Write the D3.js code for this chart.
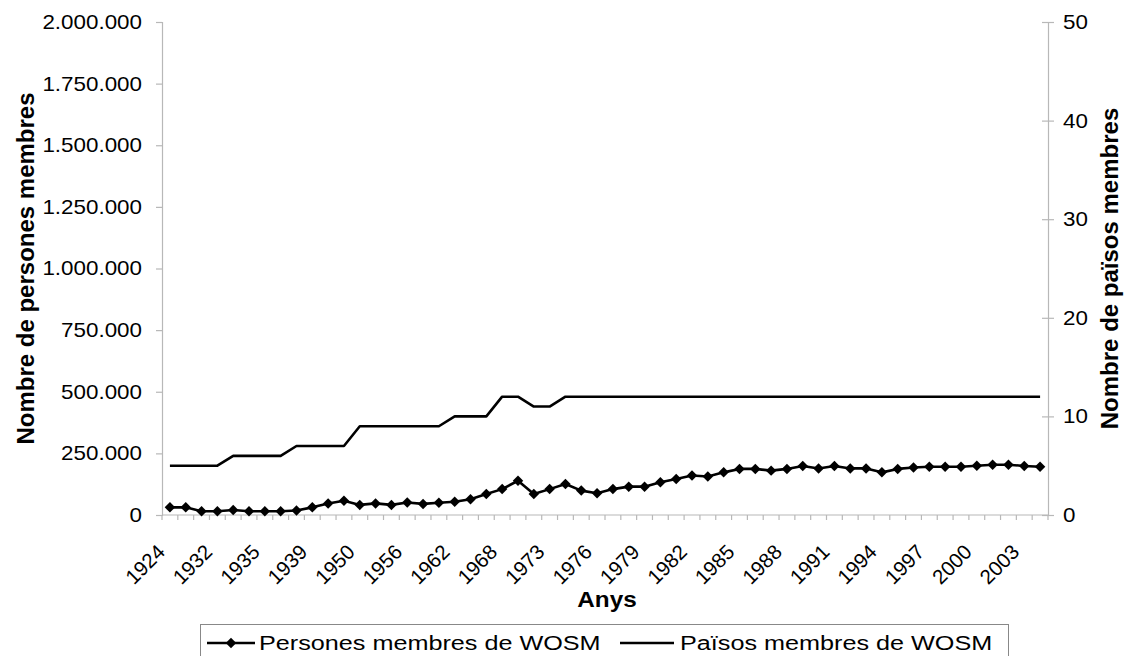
<!DOCTYPE html>
<html>
<head>
<meta charset="utf-8">
<script src="https://cdn.jsdelivr.net/npm/d3@7"></script>
<style>
  html, body { margin: 0; padding: 0; background: #fff; }
  svg { display: block; }
  text { font-family: "Liberation Sans", Arial, sans-serif; fill: #000; }
</style>
</head>
<body>
<svg id="chart" width="1130" height="656"></svg>
<script>
// ---- data ----
const years = [1924,1926,1929,1932,1933,1934,1935,1937,1938,1939,1947,1949,1950,1952,1954,1956,1958,1960,1962,1964,1966,1968,1969,1971,1973,1974,1975,1976,1977,1978,1979,1980,1981,1982,1983,1984,1985,1986,1987,1988,1989,1990,1991,1992,1993,1994,1995,1996,1997,1998,1999,2000,2001,2002,2003,2004];
const persones = [31000,31000,15000,15000,20000,15000,15000,15000,18000,31000,
                  47000,58000,41000,47000,41000,51000,45000,50000,54000,64000,
                  85000,105000,139000,85000,105000,126000,99000,88000,105000,115000,
                  115000,133000,146000,160000,156000,173000,187000,187000,180000,187000,
                  199000,189000,199000,189000,189000,173000,187000,193000,196000,196000,
                  196000,200000,204000,204000,199000,196000];
const paisos = [5,5,5,5,6,6,6,6,7,7,7,7,9,9,9,9,9,9,10,10,10,12,12,11,11,12,
                12,12,12,12,12,12,12,12,12,12,12,12,12,12,12,12,12,12,12,12,12,12,12,12,12,12,12,12,12,12];
const leftTicks = [0,250000,500000,750000,1000000,1250000,1500000,1750000,2000000];
const rightTicks = [0,10,20,30,40,50];
const labelEvery = 3;
const seriesNames = ["Persones membres de WOSM", "Països membres de WOSM"];
const xTitle = "Anys";
const yLeftTitle = "Nombre de persones membres";
const yRightTitle = "Nombre de països membres";

// ---- layout ----
const L = 162, R = 1048, T = 22, B = 515;
const axisGray = "#b8b8b8";
const SX = 1.12;      // horizontal stretch of the reference's text
const svg = d3.select("#chart");

const locale = d3.formatLocale({decimal: ",", thousands: ".", grouping: [3], currency: ["", ""]});
const fmt = locale.format(",d");

const x = d3.scaleBand().domain(d3.range(years.length)).range([L, R]).paddingInner(0).paddingOuter(0);
const cx = i => x(i) + x.bandwidth() / 2;
const yL = d3.scaleLinear().domain([0, 2000000]).range([B, T]);
const yR = d3.scaleLinear().domain([0, 50]).range([B, T]);

// left axis
const gL = svg.append("g").attr("transform", `translate(${L},0)`)
  .call(d3.axisLeft(yL).tickValues(leftTicks).tickFormat(fmt).tickSize(6).tickPadding(20));
gL.select(".domain").attr("stroke", axisGray).attr("stroke-width", 1.2);
gL.selectAll(".tick line").attr("stroke", axisGray).attr("stroke-width", 1.2);
gL.selectAll(".tick text").attr("font-size", 20).attr("font-family", "Liberation Sans, Arial, sans-serif").attr("fill", "#111")
  .attr("x", 0).attr("transform", `translate(-20,0) scale(${SX},1)`);

// right axis
const gR = svg.append("g").attr("transform", `translate(${R},0)`)
  .call(d3.axisRight(yR).tickValues(rightTicks).tickSize(6).tickPadding(15));
gR.select(".domain").attr("stroke", axisGray).attr("stroke-width", 1.2);
gR.selectAll(".tick line").attr("stroke", axisGray).attr("stroke-width", 1.2).attr("x1", -6);
gR.selectAll(".tick text").attr("font-size", 20).attr("font-family", "Liberation Sans, Arial, sans-serif").attr("fill", "#111")
  .attr("x", 0).attr("transform", `translate(15,0) scale(${SX},1)`);

// bottom axis (category boundaries ticks)
const gB = svg.append("g");
gB.append("line").attr("x1", L).attr("x2", R).attr("y1", B).attr("y2", B)
  .attr("stroke", axisGray).attr("stroke-width", 1.2);
gB.selectAll("line.tk").data(d3.range(years.length + 1)).join("line").attr("class", "tk")
  .attr("x1", i => i < years.length ? x(i) : R).attr("x2", i => i < years.length ? x(i) : R)
  .attr("y1", B).attr("y2", B + 5).attr("stroke", axisGray).attr("stroke-width", 1.2);
gB.selectAll("text.xl").data(d3.range(0, years.length, labelEvery)).join("text").attr("class", "xl")
  .attr("transform", i => `translate(${cx(i) - 14},${B + 28}) rotate(-45)`)
  .attr("text-anchor", "end").attr("dy", "0.71em").attr("font-size", 20.5).attr("fill", "#111")
  .text(i => years[i]);

// lines
const lineL = d3.line().x((d, i) => cx(i)).y(d => yL(d));
const lineR = d3.line().x((d, i) => cx(i)).y(d => yR(d));
svg.append("path").datum(paisos).attr("d", lineR).attr("fill", "none")
  .attr("stroke", "#000").attr("stroke-width", 2.6).attr("stroke-linejoin", "round");
svg.append("path").datum(persones).attr("d", lineL).attr("fill", "none")
  .attr("stroke", "#000").attr("stroke-width", 2.6).attr("stroke-linejoin", "round");
svg.selectAll("path.mk").data(persones).join("path").attr("class", "mk")
  .attr("d", d3.symbol().type(d3.symbolSquare).size(55))
  .attr("transform", (d, i) => `translate(${cx(i)},${yL(d)}) rotate(45)`)
  .attr("fill", "#000");

// titles
svg.append("text").attr("transform", `translate(607,607) scale(1.08,1)`).attr("text-anchor", "middle")
  .attr("font-size", 22.5).attr("font-weight", "bold").text(xTitle);
svg.append("text").attr("transform", `translate(34,${(T + B) / 2}) rotate(-90)`)
  .attr("text-anchor", "middle").attr("font-size", 24).attr("font-weight", "bold").text(yLeftTitle);
svg.append("text").attr("transform", `translate(1118,${(T + B) / 2}) rotate(-90)`)
  .attr("text-anchor", "middle").attr("font-size", 24).attr("font-weight", "bold").text(yRightTitle);

// legend
const LSX = 1.2;
const lg = svg.append("g");
lg.append("rect").attr("x", 200.5).attr("y", 624.5).attr("width", 808).attr("height", 40)
  .attr("fill", "#fff").attr("stroke", "#888").attr("stroke-width", 1);
lg.append("line").attr("x1", 207).attr("x2", 255).attr("y1", 643).attr("y2", 643).attr("stroke", "#000").attr("stroke-width", 2.6);
lg.append("path").attr("d", d3.symbol().type(d3.symbolSquare).size(55)).attr("transform", "translate(231,643) rotate(45)").attr("fill", "#000");
lg.append("text").attr("transform", `translate(259,650) scale(${LSX},1)`).attr("font-size", 21).text(seriesNames[0]);
lg.append("line").attr("x1", 620).attr("x2", 674).attr("y1", 643).attr("y2", 643).attr("stroke", "#000").attr("stroke-width", 2.6);
lg.append("text").attr("transform", `translate(680,650) scale(${LSX},1)`).attr("font-size", 21).text(seriesNames[1]);
</script>
</body>
</html>
